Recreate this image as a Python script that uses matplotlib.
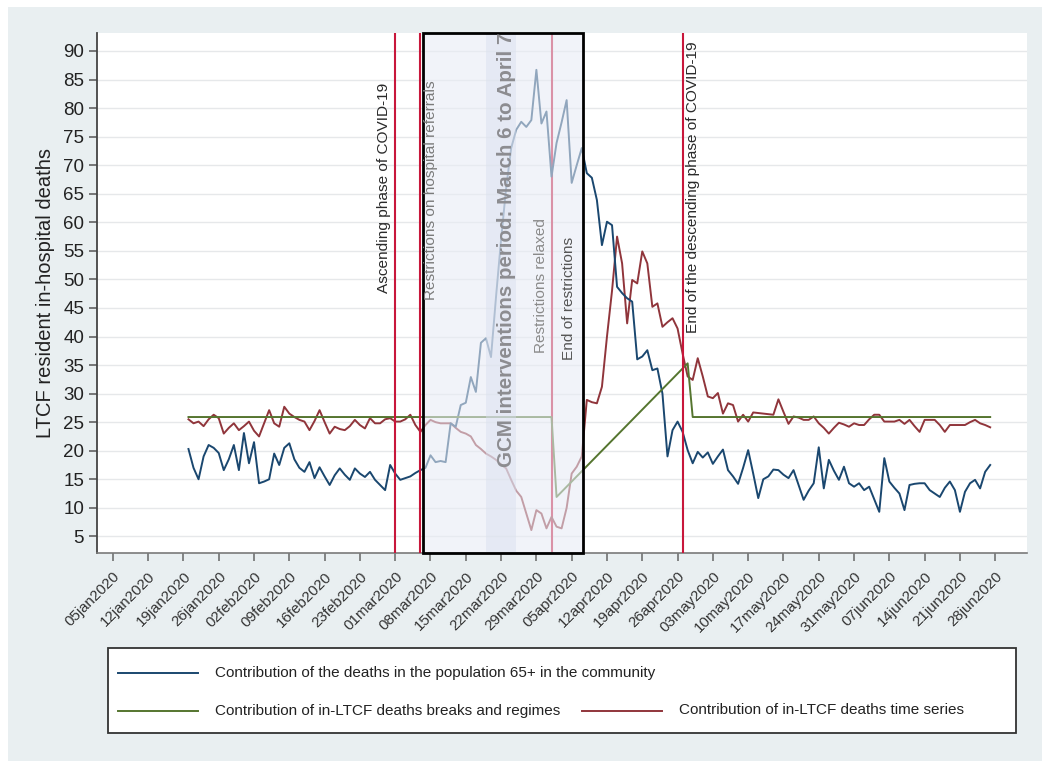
import numpy as np
import pandas as pd
import matplotlib
matplotlib.use("Agg")
import matplotlib.pyplot as plt
import matplotlib.dates as mdates
import matplotlib.transforms as mtransforms
from matplotlib.patches import Rectangle
from matplotlib.lines import Line2D

plt.rcParams['font.family'] = ['Liberation Sans', 'DejaVu Sans']

# ---------------- data ----------------
series_start = "2020-01-20"

community_65plus = [
    20.3, 17, 15, 19, 21, 20.5, 19.6, 16.6, 18.5, 21,
    16.6, 23.1, 17.8, 21.5, 14.3, 14.6, 15, 19.5, 17.5, 20.5,
    21.3, 18.5, 17, 16.3, 18, 15.2, 17.1, 15.5, 14, 15.7,
    16.9, 15.8, 14.9, 16.9, 16, 15.4, 16.3, 14.9, 14, 13.1,
    17.5, 16, 14.9, 15.2, 15.5, 16.1, 16.6, 17, 19.2, 18,
    18.2, 18, 24.8, 24.2, 28, 28.4, 32.9, 30.3, 38.9, 39.7,
    36.4, 47, 57, 66, 73, 76.2, 77.6, 76.7, 77.9, 86.7,
    77.3, 79.4, 68, 73.9, 77.5, 81.4, 66.9, 70, 73, 68.6,
    67.8, 63.9, 56, 60.1, 59.5, 48.7, 47.6, 46.7, 46.1, 36,
    36.5, 37.6, 34.1, 34.4, 30, 19, 23.6, 25.1, 23.3, 20.1,
    17.8, 19.8, 18.8, 19.7, 17.7, 19, 20.2, 16.6, 15.5, 14.2,
    17, 20.1, 16, 11.7, 15, 15.5, 16.7, 16.6, 15.8, 15.2,
    16.6, 14, 11.4, 13, 14.3, 20.6, 13.4, 18.4, 16.5, 14.9,
    17.2, 14.3, 13.7, 14.3, 13.1, 13.7, 11.5, 9.3, 18.7, 14.6,
    13.5, 12.5, 9.6, 14, 14.2, 14.3, 14.3, 13.1, 12.5, 11.9,
    13.5, 14.6, 13.1, 9.3, 12.8, 14.3, 14.9, 13.4, 16.3, 17.5,
]

ltcf_time_series = [
    25.5, 24.8, 25.1, 24.3, 25.5, 26.3, 25.7, 23, 24, 24.8,
    23.6, 24.3, 25.1, 23.5, 22.5, 24.8, 27.1, 24.8, 24.2, 27.7,
    26.5, 25.9, 25.4, 25.1, 23.6, 25.2, 27.1, 25, 23, 24.2,
    23.8, 23.6, 24.3, 25.4, 24.5, 23.9, 25.7, 24.8, 24.8, 25.5,
    25.7, 25.1, 25.1, 25.5, 26.3, 24.5, 23.3, 24.5, 25.4, 25,
    24.8, 24.8, 24.8, 24, 23.3, 23, 22.5, 21, 20.3, 19.5,
    19, 18.4, 17.6, 16.9, 14.9, 13, 11.9, 9, 6.1, 9.6,
    9, 6.4, 8.4, 6.7, 6.4, 10, 16, 17.2, 19, 28.9,
    28.5, 28.3, 31.2, 40, 48, 57.5, 52.8, 42.3, 49.9, 49.3,
    54.9, 52.8, 45.2, 45.8, 41.7, 42.5, 43.2, 41.4, 37, 33,
    32.4, 36.2, 33, 29.5, 29.2, 30.1, 26.5, 28.3, 28, 25.1,
    26.3, 25.1, 26.7, 26.6, 26.5, 26.4, 26.3, 29, 26.8, 24.7,
    26, 25.8, 25.4, 25.4, 26, 24.8, 24, 23, 24, 24.9,
    24.6, 24.2, 24.8, 24.5, 24.5, 25.5, 26.3, 26.3, 25.1, 25.1,
    25.1, 25.4, 24.7, 25.4, 24.3, 23.3, 25.4, 25.4, 25.4, 24.5,
    23.3, 24.5, 24.5, 24.5, 24.5, 25, 25.4, 24.8, 24.5, 24.1,
]

breaks_dates = ["2020-01-20", "2020-04-01", "2020-04-02",
                "2020-04-28", "2020-04-29", "2020-06-27"]
breaks_values = [25.9, 25.9, 11.9, 35.3, 25.9, 25.9]

event_dates = ["2020-03-01", "2020-03-06", "2020-04-01", "2020-04-07", "2020-04-27"]
event_labels = ["Ascending phase of COVID-19",
                "Restrictions on hospital referrals",
                "Restrictions relaxed",
                "End of restrictions",
                "End of the descending phase of COVID-19"]

gcm_start, gcm_end = "2020-03-06", "2020-04-07"
gcm_label = "GCM interventions period: March 6 to April 7"

tick_first, tick_last = "2020-01-05", "2020-06-28"
y_ticks = list(range(5, 95, 5))

legend_labels = ["Contribution of the deaths in the population 65+ in the community",
                 "Contribution of in-LTCF deaths breaks and regimes",
                 "Contribution of in-LTCF deaths time series"]
y_label = "LTCF resident in-hospital deaths"

# ---------------- styling ----------------
C_BLUE = "#1a476f"
C_RED = "#90353b"
C_GREEN = "#55752f"
C_VLINE = "#c8173b"
BG = "#e9eff1"

days = pd.date_range(series_start, periods=len(community_65plus), freq="D")
bdates = pd.to_datetime(breaks_dates)
edates = pd.to_datetime(event_dates)

fig = plt.figure(figsize=(10.42, 7.61), dpi=100, facecolor="white")
fig.patches.append(Rectangle((8 / 1042, 0), 1 - 8 / 1042, 1 - 7 / 761,
                             transform=fig.transFigure, facecolor=BG,
                             edgecolor="none", zorder=-10))
ax = fig.add_axes([96.7 / 1042, 1 - 552.7 / 761, (1027 - 96.7) / 1042, (552.7 - 33) / 761])
ax.set_facecolor("white")

t0 = pd.Timestamp(tick_first)
ax.set_xlim(mdates.date2num(t0) - 3.2, mdates.date2num(t0) + 181.3)
ax.set_ylim(2.14, 93.15)

# grid
for v in y_ticks:
    ax.axhline(v, color="#e6e8ea", lw=1.0, zorder=0.5)

# series
ax.plot(days, community_65plus, color=C_BLUE, lw=1.4, zorder=2.5)
ax.plot(days, ltcf_time_series, color=C_RED, lw=1.4, zorder=2.4)
ax.plot(bdates, breaks_values, color=C_GREEN, lw=1.4, zorder=2.6)

# event vertical lines
inside = [False, False, True, None, False]
for d, ins in zip(edates, inside):
    if ins is None:
        continue
    ax.axvline(d, color=C_VLINE, lw=1.5, zorder=2 if ins else 4)

# GCM overlay box
g0 = mdates.date2num(pd.Timestamp(gcm_start)) + 0.45
g1 = mdates.date2num(pd.Timestamp(gcm_end)) + 0.25
ax.axvspan(g0, g1, facecolor="#e8ecf6", alpha=0.58, lw=0, zorder=3)
band0 = mdates.date2num(pd.Timestamp("2020-03-19"))
band1 = mdates.date2num(pd.Timestamp("2020-03-25"))
ax.axvspan(band0, band1, facecolor="#d8dfee", alpha=0.45, lw=0, zorder=3.1)
box = Rectangle((g0, 0), g1 - g0, 1, transform=ax.get_xaxis_transform(),
                fill=False, edgecolor="black", lw=2.0, zorder=6, clip_on=False)
ax.add_patch(box)

# event labels
def off(dx):
    return mtransforms.offset_copy(ax.transData, fig=fig, x=dx, y=0, units="dots")

lab_cfg = [
    (-4, "right", 47.6, "#2a2a2a"),
    (4, "left", 46.4, "#7a7a7a"),
    (-4, "right", 37.1, "#8a8a8a"),
    (-6, "right", 35.9, "#555555"),
    (3, "left", 40.6, "#2a2a2a"),
]
for d, lab, (dx, ha, yb, col) in zip(edates, event_labels, lab_cfg):
    ax.text(mdates.date2num(d), yb, lab, rotation=90, ha=ha, va="bottom",
            fontsize=11.1, color=col, transform=off(dx), zorder=7)

gmid = mdates.date2num(pd.Timestamp("2020-03-23"))
ax.text(gmid, 55.2, gcm_label, rotation=90, ha="center", va="center",
        fontsize=14.8, fontweight="bold", color="#8c8c90", zorder=7)

# axes styling
for s in ["top", "right"]:
    ax.spines[s].set_visible(False)
ax.spines["left"].set_color("#444444")
ax.spines["left"].set_linewidth(1.3)
ax.spines["bottom"].set_color("#7a7a7a")
ax.spines["bottom"].set_linewidth(1.2)

ax.set_yticks(y_ticks)
ax.set_yticklabels([str(v) for v in y_ticks], fontsize=13.5, color="#222222")
ax.tick_params(axis="y", length=6, width=1.1, color="#555555", pad=3)
ax.set_ylabel(y_label, fontsize=14.5, color="#222222", labelpad=6)

tick_dates = pd.date_range(tick_first, tick_last, freq="7D")
ax.set_xticks(tick_dates)
ax.set_xticklabels([d.strftime("%d%b%Y").lower() for d in tick_dates],
                   rotation=45, ha="right", rotation_mode="anchor",
                   fontsize=10.8, color="#333333")
ax.tick_params(axis="x", length=6, width=1.1, color="#666666", pad=6)

# legend (manual, Stata-like layout)
lg = Rectangle((107.5 / 1042, 1 - 733 / 761), (1016 - 107.5) / 1042, (733 - 648) / 761,
               transform=fig.transFigure, facecolor="white", edgecolor="#333333",
               lw=1.3, zorder=5)
fig.patches.append(lg)
entries = [
    (118, 198, 672.5, 215, C_BLUE, legend_labels[0]),
    (118, 198, 710.5, 215, C_GREEN, legend_labels[1]),
    (582, 662, 710.5, 679, C_RED, legend_labels[2]),
]
for x0, x1, yy, xt, col, lab in entries:
    fig.add_artist(Line2D([x0 / 1042, x1 / 1042], [1 - yy / 761, 1 - yy / 761],
                          transform=fig.transFigure, color=col, lw=1.4, zorder=6))
    fig.text(xt / 1042, 1 - yy / 761, lab, ha="left", va="center",
             fontsize=11, color="#222222", zorder=6)

fig.savefig("out.png", dpi=100, facecolor=fig.get_facecolor())
